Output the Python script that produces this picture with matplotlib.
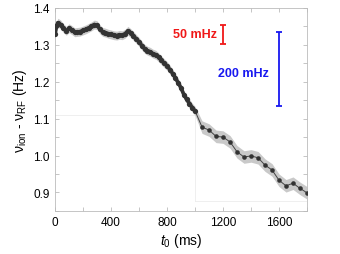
import matplotlib
matplotlib.use("Agg")
import matplotlib.pyplot as plt
import numpy as np

plt.rcParams['font.family'] = ['Liberation Sans', 'DejaVu Sans']
plt.rcParams['mathtext.fontset'] = 'custom'
plt.rcParams['mathtext.rm'] = 'Liberation Sans'
plt.rcParams['mathtext.it'] = 'Liberation Sans:italic'

# Dense early segment (ms, Hz)
t_early = [0, 10, 20, 40, 60, 80, 100, 120, 140, 160, 180, 200, 220, 240, 260, 280,
           300, 320, 340, 360, 380, 400, 420, 440, 460, 480, 500, 520, 540, 560,
           580, 600, 620, 640, 660, 680, 700, 720, 740, 760, 780, 800, 820, 840,
           860, 880, 900, 920, 940, 960, 980, 1000]
v_early = [1.328, 1.350, 1.360, 1.355, 1.345, 1.338, 1.345, 1.340, 1.334, 1.335,
           1.336, 1.339, 1.342, 1.346, 1.350, 1.355, 1.353, 1.342, 1.335, 1.333,
           1.330, 1.328, 1.326, 1.325, 1.327, 1.326, 1.330, 1.338, 1.332, 1.324,
           1.316, 1.308, 1.298, 1.289, 1.284, 1.281, 1.276, 1.273, 1.266, 1.258,
           1.250, 1.243, 1.233, 1.222, 1.210, 1.197, 1.183, 1.165, 1.152, 1.141,
           1.130, 1.121]
err_early = 0.012

# Sparse late segment
t_late = [1050, 1100, 1150, 1200, 1250, 1300, 1350, 1400, 1450, 1500, 1550, 1600,
          1650, 1700, 1750, 1800]
v_late = [1.077, 1.069, 1.052, 1.050, 1.037, 1.010, 0.996, 0.999, 0.994, 0.974,
          0.961, 0.933, 0.918, 0.925, 0.911, 0.899]
err_late = 0.017

xticks = [0, 400, 800, 1200, 1600]
yticks = [0.9, 1.0, 1.1, 1.2, 1.3, 1.4]

fig = plt.figure(figsize=(3.4, 2.55), dpi=100)
ax = fig.add_axes([0.162, 0.169, 0.741, 0.796])

t_all = np.array(t_early + t_late, dtype=float)
v_all = np.array(v_early + v_late)
e_all = np.array([err_early] * len(t_early) + [err_late] * len(t_late))

# faint panel frame lines
fc = '#ececec'
ax.plot([0, 1000], [1.11, 1.11], color=fc, lw=0.6, zorder=0)
ax.plot([1000, 1000], [1.11, 0.876], color=fc, lw=0.6, zorder=0)
ax.plot([1000, 1800], [0.876, 0.876], color=fc, lw=0.6, zorder=0)

ax.fill_between(t_all, v_all - e_all, v_all + e_all, color='#c9c9c9', lw=0, zorder=1)
ax.plot(t_all, v_all, '-', color='#444444', lw=0.7, zorder=2)
ax.plot(t_early, v_early, '-', color='#333333', lw=2.6, solid_capstyle='round', zorder=3)
ax.plot(t_early, v_early, 'o', color='#333333', ms=3.8, mew=0, zorder=3)
ax.plot(t_late, v_late, 'o', color='#333333', ms=3.3, mew=0, zorder=3)

# scale bars
ax.errorbar([1200], [1.328], yerr=[0.025], color='#f01818', lw=1.3, capsize=2.0,
            capthick=1.3, zorder=4)
ax.text(1160, 1.328, '50 mHz', color='#f01818', fontweight='bold', fontsize=9,
        ha='right', va='center')
ax.errorbar([1600], [1.235], yerr=[0.100], color='#1818f0', lw=1.3, capsize=2.0,
            capthick=1.3, zorder=4)
ax.text(1530, 1.225, '200 mHz', color='#1818f0', fontweight='bold', fontsize=9,
        ha='right', va='center')

ax.set_xlim(0, 1800)
ax.set_ylim(0.85, 1.4)
ax.set_xticks(xticks)
ax.set_yticks(yticks)
ax.set_xticks(np.arange(0, 1801, 200), minor=True)
ax.set_yticks(np.arange(0.85, 1.401, 0.05), minor=True)
ax.set_xticklabels([str(x) for x in xticks])
ax.set_yticklabels([f'{y:.1f}' for y in yticks])
ax.tick_params(which='both', direction='in', top=True, right=True, length=3,
               width=0.6, color='#bbbbbb', labelsize=8.5, pad=4)
for s in ax.spines.values():
    s.set_color('#bbbbbb')
    s.set_linewidth(0.6)

ax.set_xlabel(r'$t_0$ (ms)', fontsize=10, labelpad=2)
ax.set_ylabel(r'$\mathrm{\nu}_{\mathrm{ion}}$ - $\mathrm{\nu}_{\mathrm{RF}}$ (Hz)',
              fontsize=10, labelpad=3)

fig.savefig('out.png', dpi=100)
